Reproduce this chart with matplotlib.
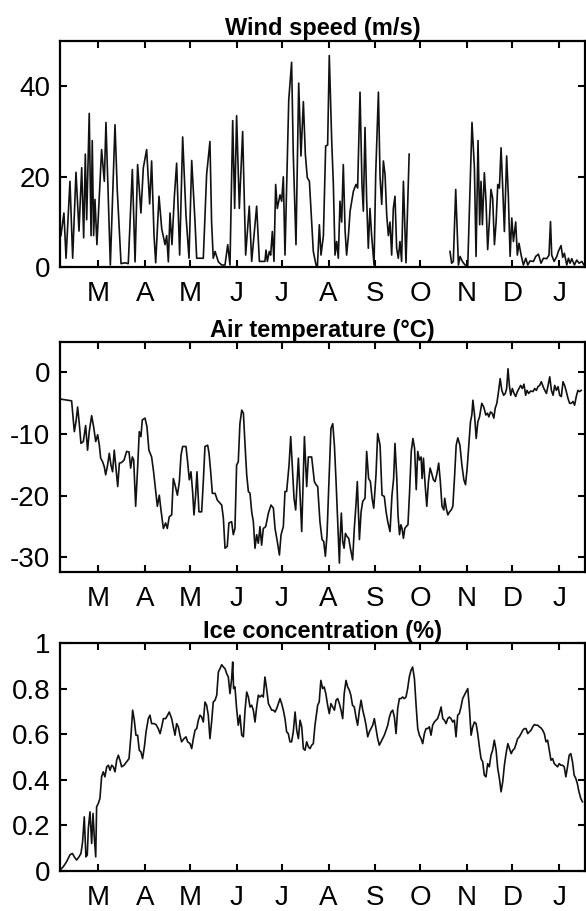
import numpy as np
import matplotlib
matplotlib.use("Agg")
import matplotlib.pyplot as plt

plt.rcParams['font.family'] = ['Liberation Sans', 'DejaVu Sans']
plt.rcParams['axes.unicode_minus'] = False

# x axis: days since 1 March
month_days = [0, 31, 61, 92, 122, 153, 184, 214, 245, 275, 306]
month_labels = ['M', 'A', 'M', 'J', 'J', 'A', 'S', 'O', 'N', 'D', 'J']

titles = ['Wind speed (m/s)', 'Air temperature (°C)', 'Ice concentration (%)']

wind_pts = [
    (-24.6, 7), (-22.6, 12), (-21.2, 2), (-18.6, 19), (-16.8, 2), (-14.6, 21), (-12.6, 8),
    (-10.8, 22), (-9.5, 6.5), (-8.4, 25), (-7.5, 10.5), (-5.8, 34), (-4.6, 7), (-3.8, 28),
    (-2.9, 7), (-2.0, 15), (-0.7, 5), (2.4, 26), (4.2, 19), (5.3, 32), (8.2, 0.5), (11.3, 31.5),
    (12.8, 17), (15.3, 0.8), (17.9, 1), (20.1, 0.8), (22.8, 21.6), (24.6, 1.2), (26.3, 22.7),
    (28.5, 12), (30.1, 22), (32.3, 26), (34.3, 14), (35.6, 23.5), (37.2, 7), (38.3, 1),
    (40.5, 15.7), (42.3, 8.5), (44.5, 5), (45.6, 7), (46.7, 1.2), (47.8, 12), (49.1, 5),
    (50.7, 15.7), (52.2, 23), (54.2, 2.7), (56.2, 28.8), (58.4, 11.5), (60.4, 2), (62.2, 23.6),
    (64.4, 10), (65.5, 2), (67.7, 2), (69.9, 2), (72.1, 20.5), (74.3, 27.8), (75.4, 10),
    (76.5, 2), (77.7, 3.5), (79.9, 1.2), (82.1, 0.5), (84.3, 0.5), (86.1, 5), (87.6, 0.5),
    (89.4, 32.4), (90.7, 13), (92.0, 33.5), (93.8, 13), (96.0, 30), (98.0, 2.7), (100.4, 13.5),
    (102.0, 1.3), (105.3, 13.5), (107.1, 1.3), (110.8, 1.3), (111.5, 3.8), (112.4, 1.3),
    (113.7, 3.5), (114.6, 2.7), (115.7, 7.9), (116.8, 1.3), (117.9, 18.3), (119.0, 13),
    (120.8, 16), (121.9, 14.6), (123.0, 20), (124.1, 2.7), (125.7, 25), (126.6, 37),
    (128.5, 45.3), (129.6, 25), (131.4, 5), (133.2, 40.7), (134.7, 24.6), (136.3, 36.6),
    (137.6, 25), (138.9, 19.8), (140.3, 19), (141.8, 10), (142.9, 3.5), (144.7, 0.5),
    (145.6, 0), (146.9, 9.4), (148.0, 2.7), (149.6, 7), (151.1, 26.8), (152.4, 27),
    (153.5, 46.8), (155.1, 28), (156.2, 18.3), (157.3, 2.7), (158.4, 5.7), (159.5, 2),
    (160.6, 14.6), (161.7, 10), (162.8, 22.7), (164.0, 8), (165.0, 2.7), (166.2, 7),
    (167.3, 12.4), (169.5, 16.8), (171.2, 18.3), (172.3, 17.5), (173.9, 38.7), (175.2, 18.3),
    (176.1, 12.4), (177.2, 30.9), (178.3, 15), (179.4, 4.2), (180.5, 13), (181.6, 7),
    (183.2, 0.5), (184.3, 20.5), (186.1, 38.7), (187.2, 19.8), (188.3, 13.9), (189.4, 23.5),
    (190.5, 20.5), (191.6, 11.6), (192.7, 7), (193.8, 10), (194.9, 2.7), (196.0, 13),
    (197.1, 15.7), (198.2, 4.2), (199.3, 2), (200.4, 5.7), (201.5, 1.3), (202.7, 19),
    (204.4, 1), (206.5, 25),
    (220.0, np.nan),
    (233.6, 3.5), (234.7, 0.9), (235.8, 1.3), (237.4, 17.2), (239.2, 0.5), (240.3, 2.4),
    (241.8, 1.3), (243.6, 0.5), (245.4, 0.4), (248.2, 32), (249.8, 22), (250.9, 2.4),
    (252.2, 28), (253.3, 9.4), (254.2, 19), (255.1, 9.4), (256.4, 20.9), (257.5, 14.6),
    (258.6, 3.9), (259.7, 10), (260.8, 17.2), (261.9, 15.3), (263.1, 5), (264.2, 10),
    (265.3, 18.3), (266.4, 17.5), (267.5, 26.4), (268.6, 17.5), (269.7, 7.9), (271.2, 24.6),
    (272.3, 16), (273.5, 2.4), (274.6, 10.9), (275.7, 5.7), (277.2, 10), (278.3, 2.7),
    (279.4, 5.3), (280.8, 2.7), (282.3, 0.5), (283.9, 2), (285.2, 0.5), (286.7, 1.4),
    (289.0, 1.3), (290.5, 2.4), (292.3, 2.9), (294.0, 0.9), (295.6, 2), (297.8, 1.9),
    (299.3, 2.7), (300.3, 10.1), (301.1, 2.7), (302.7, 1.3), (304.5, 2.4), (305.5, 3.5),
    (307.3, 4.8), (308.4, 2.2), (309.5, 3.1), (311.1, 0.5), (312.2, 2), (313.3, 0.9),
    (314.4, 1.9), (316.2, 0.5), (317.7, 1.6), (319.3, 0.9), (321.1, 1.3), (322.5, 0.5),
]

temp_pts = [
    (-25.2, -4.3), (-17.5, -4.6), (-15.7, -9.6), (-14.6, -8.0), (-13.5, -5.6), (-12.4, -8.3),
    (-11.3, -11.5), (-9.7, -11.2), (-8.2, -8.6), (-6.9, -12.6), (-5.8, -9.6), (-4.2, -7.0),
    (-2.9, -8.8), (-1.5, -11.2), (-0.2, -10.1), (0.9, -11.8), (1.8, -13.9), (3.1, -14.5),
    (4.2, -15.3), (5.1, -16.6), (6.4, -15.0), (7.5, -13.1), (8.6, -15.0), (9.7, -16.1),
    (10.8, -12.6), (11.9, -15.5), (13.1, -18.5), (14.2, -14.7), (15.7, -14.6), (17.3, -14.2),
    (19.0, -12.8), (20.6, -12.9), (21.7, -15.5), (22.8, -13.7), (23.7, -14.2), (25.0, -21.7),
    (26.3, -15.5), (27.4, -9.6), (28.5, -10.4), (29.4, -7.7), (31.2, -7.4), (32.5, -8.8),
    (33.8, -12.6), (35.6, -13.7), (36.9, -16.1), (38.3, -19.3), (39.4, -21.7), (40.7, -19.9),
    (41.8, -22.3), (43.4, -25.3), (44.9, -24.4), (46.0, -25.3), (47.3, -23.4), (48.9, -23.1),
    (50.0, -17.2), (51.1, -18.2), (52.7, -19.9), (54.0, -17.7), (55.1, -13.4), (56.2, -12.0),
    (58.4, -12.0), (59.5, -14.5), (60.6, -17.4), (61.7, -16.1), (62.8, -19.3), (63.7, -23.1),
    (64.8, -19.9), (65.7, -16.1), (67.0, -22.6), (68.8, -22.6), (69.9, -17.7), (71.0, -12.0),
    (72.8, -11.8), (73.7, -13.1), (74.8, -16.1), (75.9, -19.6), (77.7, -19.6), (79.2, -20.7),
    (81.0, -21.2), (82.1, -21.5), (83.2, -23.6), (84.3, -28.5), (85.8, -28.2), (86.9, -24.4),
    (88.7, -24.2), (89.8, -26.3), (90.9, -25.3), (92.0, -15.0), (93.1, -14.5), (94.2, -8.3),
    (95.4, -6.1), (96.5, -6.6), (97.6, -11.8), (98.7, -16.6), (99.8, -19.3), (100.9, -19.6),
    (102.0, -22.6), (103.1, -24.2), (104.2, -28.5), (105.3, -26.3), (106.4, -27.7),
    (107.5, -25.0), (108.6, -28.0), (109.7, -25.3), (111.3, -25.0), (113.1, -22.8),
    (114.8, -21.5), (116.4, -22.0), (117.5, -25.3), (119.0, -27.4), (120.4, -29.6),
    (121.5, -26.3), (123.0, -25.0), (124.1, -19.3), (125.2, -19.3), (126.8, -15.0),
    (127.9, -10.4), (129.0, -15.5), (130.1, -20.4), (131.2, -22.3), (133.0, -13.9),
    (135.2, -25.8), (137.0, -10.4), (138.5, -18.5), (139.6, -13.7), (141.8, -13.7),
    (143.6, -17.7), (144.7, -18.2), (145.8, -18.5), (147.3, -24.2), (148.7, -27.1),
    (149.8, -27.4), (150.9, -29.8), (152.0, -26.3), (153.1, -18.8), (154.6, -9.1),
    (155.8, -8.3), (156.9, -11.8), (158.0, -17.7), (159.1, -24.2), (160.2, -30.9),
    (160.8, -26.3), (161.5, -22.8), (162.4, -27.4), (163.3, -28.5), (164.2, -26.1),
    (165.3, -26.6), (166.4, -26.9), (167.5, -28.5), (169.0, -30.4), (170.1, -25.3),
    (171.2, -21.5), (172.1, -17.7), (173.5, -27.1), (174.6, -22.6), (175.7, -20.9),
    (177.2, -20.4), (178.3, -12.8), (179.6, -17.2), (180.8, -17.7), (181.9, -20.4),
    (183.0, -22.0), (184.5, -16.6), (185.6, -9.9), (187.2, -11.8), (188.5, -19.9),
    (190.0, -20.1), (191.2, -22.6), (192.3, -24.2), (193.8, -25.8), (195.1, -19.9),
    (196.2, -17.2), (197.1, -11.5), (198.3, -17.2), (199.1, -23.1), (200.1, -26.3),
    (201.0, -24.7), (201.8, -25.3), (202.7, -26.9), (203.6, -25.3), (204.5, -25.0),
    (205.7, -24.7), (206.8, -19.3), (207.9, -12.8), (209.0, -10.7), (210.1, -12.3),
    (211.2, -19.0), (212.2, -12.8), (213.3, -14.2), (214.4, -13.7), (215.1, -17.2),
    (216.0, -13.9), (217.1, -18.2), (218.2, -21.7), (219.3, -17.7), (220.4, -15.5),
    (221.5, -16.4), (222.6, -17.4), (223.7, -17.7), (224.8, -16.6), (226.1, -14.7),
    (227.2, -17.7), (228.3, -21.7), (229.5, -22.3), (230.1, -20.4), (231.1, -22.0),
    (232.2, -23.1), (233.3, -22.6), (234.4, -22.3), (235.5, -21.7), (236.7, -16.6),
    (237.7, -11.8), (238.8, -10.6), (240.2, -11.8), (241.5, -15.0), (242.8, -17.4),
    (243.9, -18.2), (245.0, -15.5), (246.1, -11.8), (247.2, -8.0), (248.1, -6.9),
    (248.8, -4.5), (249.9, -6.9), (251.0, -10.7), (252.1, -8.0), (253.2, -7.2),
    (254.7, -5.0), (256.0, -5.6), (257.4, -6.9), (258.5, -6.6), (259.4, -7.2),
    (260.5, -6.4), (261.6, -6.6), (262.7, -7.4), (263.6, -5.8), (264.7, -5.0),
    (265.8, -3.1), (266.9, -1.0), (268.0, -2.9), (269.2, -3.7), (270.3, -3.4),
    (271.2, -2.6), (272.1, 0.6), (273.0, -2.1), (273.9, -3.7), (275.0, -2.6),
    (276.1, -3.4), (277.2, -3.9), (278.3, -3.1), (279.4, -2.6), (280.5, -2.1),
    (281.6, -2.6), (282.7, -1.9), (283.8, -3.7), (284.7, -2.9), (285.8, -3.4),
    (287.2, -3.0), (288.7, -3.1), (289.8, -2.6), (290.9, -2.9), (292.0, -2.3),
    (293.1, -2.1), (294.2, -1.5), (295.4, -2.3), (296.5, -2.9), (297.6, -3.4),
    (298.7, -2.1), (299.8, -0.7), (300.9, -2.9), (302.0, -3.7), (303.1, -2.1),
    (304.2, -2.9), (305.3, -2.3), (306.4, -3.7), (307.5, -3.9), (308.6, -1.5),
    (309.7, -2.1), (310.8, -3.1), (311.9, -4.2), (313.0, -5.0), (314.1, -5.0),
    (315.2, -4.7), (316.3, -5.3), (317.4, -3.9), (318.5, -2.9), (319.6, -3.1),
    (320.7, -2.9),
]

ice_pts = [
    (-25.2, 0.003), (-23.0, 0.018), (-20.8, 0.04), (-18.6, 0.07), (-17.0, 0.076), (-15.7, 0.061),
    (-14.2, 0.047), (-12.6, 0.061), (-11.3, 0.076), (-10.2, 0.127), (-9.1, 0.237), (-8.0, 0.061),
    (-7.1, 0.069), (-6.4, 0.186), (-5.3, 0.259), (-4.2, 0.12), (-3.3, 0.252), (-2.4, 0.142),
    (-1.5, 0.061), (-0.9, 0.281), (0.2, 0.296), (1.3, 0.318), (2.4, 0.413), (3.5, 0.435),
    (4.6, 0.413), (5.8, 0.457), (6.9, 0.464), (8.0, 0.442), (9.1, 0.464), (10.2, 0.457),
    (11.3, 0.435), (12.4, 0.486), (13.5, 0.508), (14.6, 0.486), (15.7, 0.457), (17.3, 0.464),
    (19.0, 0.479), (20.6, 0.493), (21.9, 0.596), (23.0, 0.706), (24.1, 0.662), (25.2, 0.596),
    (26.3, 0.596), (27.4, 0.53), (28.5, 0.523), (29.6, 0.493), (30.8, 0.545), (31.9, 0.611),
    (33.4, 0.669), (34.5, 0.684), (35.6, 0.647), (37.2, 0.647), (38.5, 0.643), (40.0, 0.625),
    (41.2, 0.603), (42.3, 0.633), (43.4, 0.669), (44.9, 0.669), (46.2, 0.684), (47.3, 0.698),
    (48.9, 0.669), (50.0, 0.633), (51.1, 0.596), (52.2, 0.647), (53.3, 0.633), (54.4, 0.596),
    (55.5, 0.567), (57.1, 0.581), (58.4, 0.589), (59.5, 0.567), (61.1, 0.559), (62.2, 0.537),
    (63.3, 0.581), (64.4, 0.618), (65.5, 0.625), (66.6, 0.662), (67.7, 0.684), (68.8, 0.676),
    (69.9, 0.654), (71.0, 0.742), (72.1, 0.728), (73.2, 0.684), (74.3, 0.581), (75.4, 0.654),
    (76.5, 0.742), (77.7, 0.75), (78.8, 0.772), (79.9, 0.874), (81.0, 0.889), (82.1, 0.906),
    (83.2, 0.896), (84.3, 0.889), (85.4, 0.867), (86.5, 0.852), (87.6, 0.779), (88.7, 0.845),
    (89.4, 0.918), (90.0, 0.801), (90.9, 0.808), (92.0, 0.713), (93.1, 0.64), (94.2, 0.684),
    (95.4, 0.596), (96.5, 0.589), (97.6, 0.706), (98.7, 0.786), (99.8, 0.764), (100.9, 0.72),
    (102.0, 0.728), (103.1, 0.706), (104.2, 0.654), (105.3, 0.72), (106.4, 0.772), (107.5, 0.764),
    (108.6, 0.772), (109.7, 0.764), (110.8, 0.852), (111.9, 0.801), (113.1, 0.735), (114.2, 0.72),
    (115.3, 0.706), (116.4, 0.706), (117.5, 0.698), (118.6, 0.713), (119.7, 0.735), (120.8, 0.757),
    (121.9, 0.735), (123.0, 0.706), (124.1, 0.669), (125.2, 0.611), (126.3, 0.603), (127.4, 0.567),
    (128.5, 0.567), (129.6, 0.611), (130.8, 0.698), (131.9, 0.618), (133.0, 0.581), (134.1, 0.662),
    (135.2, 0.633), (136.3, 0.537), (137.4, 0.53), (138.5, 0.567), (139.6, 0.545), (140.7, 0.537),
    (141.8, 0.552), (142.9, 0.559), (144.0, 0.64),
    (145.8, 0.728), (146.8, 0.742), (147.9, 0.837), (149.1, 0.801), (150.1, 0.808), (151.2, 0.779),
    (152.4, 0.728), (153.5, 0.691), (154.6, 0.735), (155.8, 0.72), (156.9, 0.706), (158.0, 0.75),
    (159.1, 0.757), (160.2, 0.735), (161.3, 0.706), (162.4, 0.669), (163.4, 0.779), (164.6, 0.837),
    (165.7, 0.808), (166.8, 0.794), (167.8, 0.772), (168.9, 0.728), (170.1, 0.72), (171.2, 0.676),
    (172.3, 0.64), (173.5, 0.706), (174.6, 0.75), (175.7, 0.706), (176.8, 0.676), (177.9, 0.64),
    (179.0, 0.589), (180.1, 0.611), (181.2, 0.625), (182.3, 0.64), (183.4, 0.669), (184.5, 0.625),
    (185.6, 0.581), (186.7, 0.552), (187.8, 0.567), (188.9, 0.581), (190.0, 0.596), (191.2, 0.618),
    (192.3, 0.64), (193.4, 0.676), (194.5, 0.698), (195.6, 0.706), (196.7, 0.676), (197.8, 0.603),
    (198.9, 0.713), (200.0, 0.757), (201.1, 0.757), (202.2, 0.764), (203.3, 0.757), (204.4, 0.764),
    (205.5, 0.801), (206.6, 0.852), (207.7, 0.881), (208.8, 0.896), (210.0, 0.845), (211.1, 0.728),
    (212.2, 0.625), (213.3, 0.596), (214.4, 0.581), (215.5, 0.559), (216.6, 0.603), (217.7, 0.625),
    (218.8, 0.625), (219.9, 0.633), (221.0, 0.596), (222.1, 0.64), (223.2, 0.654), (224.3, 0.662),
    (225.4, 0.669), (226.5, 0.691), (227.7, 0.72), (228.8, 0.669), (229.9, 0.662), (231.0, 0.647),
    (232.1, 0.669), (233.2, 0.676), (234.3, 0.669), (235.4, 0.654), (236.5, 0.662), (237.6, 0.589),
    (238.7, 0.684), (239.8, 0.691), (240.9, 0.72), (242.0, 0.757), (243.1, 0.772), (244.2, 0.786),
    (245.4, 0.801), (246.5, 0.713), (247.6, 0.596), (248.7, 0.633), (249.8, 0.654), (250.9, 0.647),
    (252.0, 0.603), (253.1, 0.545), (254.2, 0.493), (255.3, 0.479), (256.4, 0.42), (257.5, 0.413),
    (258.6, 0.471), (259.7, 0.457), (260.8, 0.508), (261.9, 0.53), (263.0, 0.574), (264.2, 0.53),
    (265.3, 0.449), (266.4, 0.406), (267.5, 0.347), (268.6, 0.391), (269.7, 0.464), (270.8, 0.515),
    (272.0, 0.559), (273.1, 0.537), (274.2, 0.515), (275.3, 0.53), (276.4, 0.537), (277.5, 0.559),
    (278.5, 0.581), (279.6, 0.589), (280.8, 0.603), (281.9, 0.618), (283.0, 0.625), (284.1, 0.625),
    (285.2, 0.603), (286.3, 0.611), (287.4, 0.618), (288.5, 0.633), (289.6, 0.643), (290.7, 0.64),
    (291.8, 0.64), (292.9, 0.633), (294.0, 0.628), (295.1, 0.618), (296.2, 0.603), (297.3, 0.567),
    (298.4, 0.574), (299.5, 0.53), (300.6, 0.486), (301.7, 0.493), (302.8, 0.471), (303.9, 0.464),
    (305.0, 0.457), (306.1, 0.471), (307.2, 0.464), (308.3, 0.464), (309.4, 0.457), (310.5, 0.413),
    (311.6, 0.457), (312.7, 0.508), (313.8, 0.515), (314.9, 0.479), (316.0, 0.42), (317.1, 0.406),
    (318.1, 0.384), (319.2, 0.347), (320.4, 0.318), (321.5, 0.303),
]

wind_day, wind_ms = np.array(wind_pts, dtype=float).T
temp_day, temp_c = np.array(temp_pts, dtype=float).T
ice_day, ice_conc = np.array(ice_pts, dtype=float).T

series = [(wind_day, wind_ms), (temp_day, temp_c), (ice_day, ice_conc)]
ylims = [(0, 50), (-32.3, 4.9), (0, 1)]
yticks = [[0, 20, 40], [-30, -20, -10, 0], [0, 0.2, 0.4, 0.6, 0.8, 1]]
yticklabels = [['0', '20', '40'], ['-30', '-20', '-10', '0'],
               ['0', '0.2', '0.4', '0.6', '0.8', '1']]
xlim = (-25.2, 323.2)

fig = plt.figure(figsize=(5.86, 9.11), dpi=100)
positions = [
    [0.1024, 0.7066, 0.8959, 0.2484],
    [0.1024, 0.3725, 0.8959, 0.2518],
    [0.1024, 0.0442, 0.8959, 0.2496],
]

for i, pos in enumerate(positions):
    ax = fig.add_axes(pos)
    d, v = series[i]
    ax.plot(d, v, color='#111111', linewidth=1.2)
    ax.set_xlim(*xlim)
    ax.set_ylim(*ylims[i])
    ax.set_xticks(month_days)
    ax.set_xticklabels(month_labels)
    ax.set_yticks(yticks[i])
    ax.set_yticklabels(yticklabels[i])
    ax.tick_params(direction='in', length=5, width=1.5, top=True, right=True,
                   labelsize=20, colors='black')
    ax.tick_params(axis='x', pad=10)
    ax.tick_params(axis='y', pad=7)
    for s in ax.spines.values():
        s.set_linewidth(1.6)
    ax.set_title(titles[i], fontsize=17, fontweight='bold', pad=4)

fig.savefig('out.png', dpi=100)
